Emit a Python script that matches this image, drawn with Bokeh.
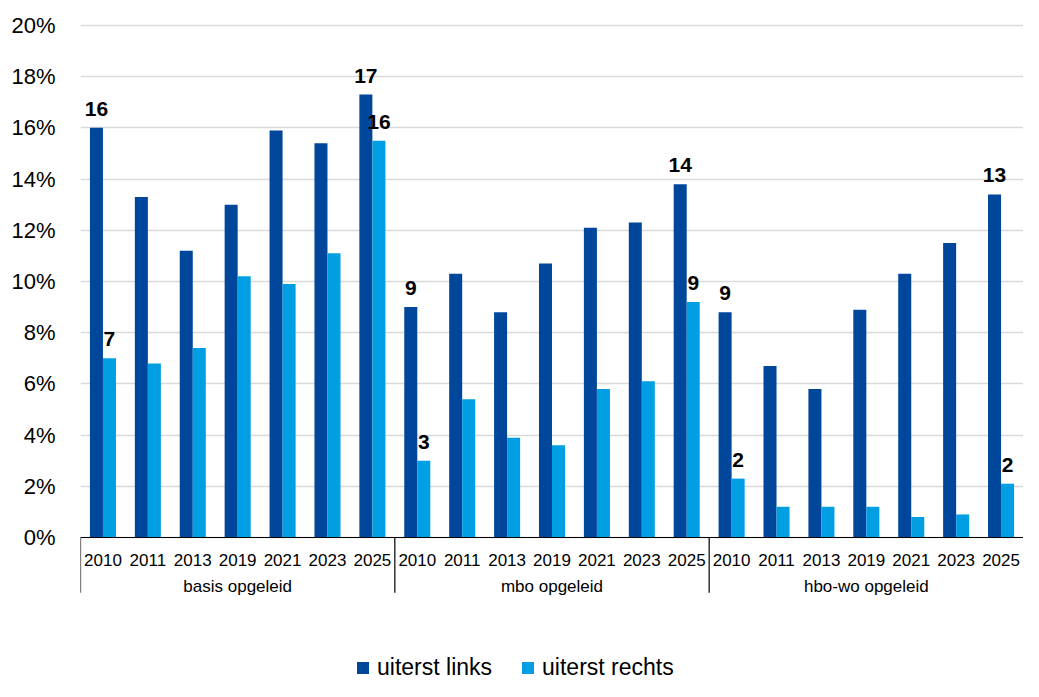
from bokeh.plotting import figure
from bokeh.models import (FactorRange, ColumnDataSource, FixedTicker, PrintfTickFormatter,
                          Span, Legend, LegendItem, Range1d)
from bokeh.transform import dodge
from bokeh.core.properties import value
from bokeh.embed import file_html
from bokeh.resources import INLINE

# ---- data ----
groups = ["basis opgeleid", "mbo opgeleid", "hbo-wo opgeleid"]
years = ["2010", "2011", "2013", "2019", "2021", "2023", "2025"]

links_basis = [16.0, 13.3, 11.2, 13.0, 15.9, 15.4, 17.3]
rechts_basis = [7.0, 6.8, 7.4, 10.2, 9.9, 11.1, 15.5]
links_mbo = [9.0, 10.3, 8.8, 10.7, 12.1, 12.3, 13.8]
rechts_mbo = [3.0, 5.4, 3.9, 3.6, 5.8, 6.1, 9.2]
links_hbo = [8.8, 6.7, 5.8, 8.9, 10.3, 11.5, 13.4]
rechts_hbo = [2.3, 1.2, 1.2, 1.2, 0.8, 0.9, 2.1]

labelled_years = ["2010", "2025"]
y_ticks = [0, 2, 4, 6, 8, 10, 12, 14, 16, 18, 20]

series_names = ["uiterst links", "uiterst rechts"]
DARK = "#00479B"
LIGHT = "#009FE3"
FONT = "Liberation Sans"

# ---- build ----
factors = [(g, y) for g in groups for y in years]
links_all = links_basis + links_mbo + links_hbo
rechts_all = rechts_basis + rechts_mbo + rechts_hbo

src = ColumnDataSource(dict(x=factors, links=links_all, rechts=rechts_all,
                            yr=[f[1] for f in factors]))

PX_PER_UNIT = 25.6
label_gap = 19 / PX_PER_UNIT

def label_source(vals):
    xs, ys, ts = [], [], []
    for f, v in zip(factors, vals):
        if f[1] in labelled_years:
            xs.append(f)
            ys.append(v + label_gap)
            ts.append(str(int(v + 0.5)))
    return ColumnDataSource(dict(x=xs, y=ys, t=ts))

p = figure(x_range=FactorRange(*factors, group_padding=0, factor_padding=0, range_padding=0),
           y_range=Range1d(-5.625, 20.35),
           width=1023, height=681, output_backend="svg", toolbar_location=None,
           x_axis_location=None, title=None,
           min_border_left=80, min_border_right=0, min_border_top=16, min_border_bottom=0)
p.outline_line_color = None
p.background_fill_color = "white"

# y axis
ticker = FixedTicker(ticks=y_ticks)
p.yaxis.ticker = ticker
p.yaxis.formatter = PrintfTickFormatter(format="%d%%")
p.yaxis.axis_line_color = None
p.yaxis.major_tick_line_color = None
p.yaxis.minor_tick_line_color = None
p.yaxis.major_tick_out = 0
p.yaxis.major_tick_in = 0
p.yaxis.major_label_standoff = 25
p.yaxis.major_label_text_font_size = "22px"
p.yaxis.major_label_text_font = FONT
p.yaxis.major_label_text_color = "black"

p.xgrid.visible = False
p.ygrid.ticker = ticker
p.ygrid.grid_line_color = "#D9D9D9"
p.ygrid.grid_line_width = 1.5

off = 0.145
bw = 0.29
r1 = p.vbar(x=dodge("x", -off, range=p.x_range), top="links", width=bw, source=src,
            fill_color=DARK, line_color=None)
r2 = p.vbar(x=dodge("x", off, range=p.x_range), top="rechts", width=bw, source=src,
            fill_color=LIGHT, line_color=None)

# baseline
p.add_layout(Span(location=0, dimension="width", line_color="black", line_width=1.2))

# group separators below axis
sep_x = [(g, years[0], -0.5) for g in groups]
p.segment(x0=sep_x, x1=sep_x, y0=[0] * len(sep_x), y1=[-2.16] * len(sep_x),
          line_color="black", line_width=1.2)

# year labels
p.text(x="x", y=-0.89, text="yr", source=src, text_font=value(FONT),
       text_font_size="17px", text_align="center", text_baseline="alphabetic",
       text_color="black")

# group labels
mid_year = years[len(years) // 2]
gsrc = ColumnDataSource(dict(x=[(g, mid_year) for g in groups], t=groups))
p.text(x="x", y=-1.93, text="t", source=gsrc, text_font=value(FONT),
       text_font_size="17px", text_align="center", text_baseline="alphabetic",
       text_color="black")

# value labels
for vals, o in ((links_all, -off), (rechts_all, off)):
    ls = label_source(vals)
    p.text(x=dodge("x", o, range=p.x_range), y="y", text="t", source=ls,
           text_font=value(FONT), text_font_style="bold", text_font_size="21px",
           text_align="center", text_baseline="alphabetic", text_color="black")

legend = Legend(items=[LegendItem(label=series_names[0], renderers=[r1]),
                       LegendItem(label=series_names[1], renderers=[r2])],
                orientation="horizontal", location=(275, 0))
legend.label_text_font = FONT
legend.label_text_font_size = "23px"
legend.label_text_color = "black"
legend.glyph_width = 15
legend.glyph_height = 15
legend.label_standoff = 7
legend.spacing = 28
legend.padding = 0
legend.margin = 0
legend.border_line_color = None
legend.background_fill_alpha = 0
p.add_layout(legend)

open("out.html", "w").write(file_html(p, INLINE))
